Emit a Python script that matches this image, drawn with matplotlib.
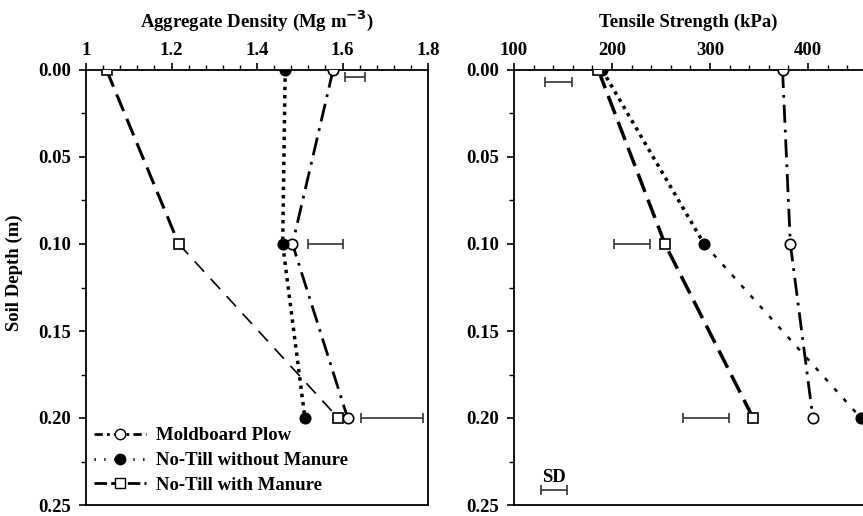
import matplotlib
matplotlib.use("Agg")
import matplotlib.pyplot as plt
from matplotlib.lines import Line2D
from matplotlib.ticker import MultipleLocator

plt.rcParams['font.family'] = ['Liberation Serif', 'DejaVu Serif']
plt.rcParams['font.weight'] = 'bold'
plt.rcParams['mathtext.fontset'] = 'custom'
plt.rcParams['mathtext.rm'] = 'Liberation Serif:bold'
plt.rcParams['lines.scale_dashes'] = False

# Data
depth = [0.00, 0.10, 0.20]

dens_plow = [1.578, 1.483, 1.612]
dens_nt = [1.466, 1.460, 1.512]
dens_ntm = [1.048, 1.217, 1.590]
dens_sd_lo = [1.606, 1.520, 1.643]
dens_sd_hi = [1.653, 1.600, 1.789]
dens_sd_depth = [0.004, 0.10, 0.20]

ts_plow = [374, 382, 405]
ts_nt = [190, 294, 454]
ts_ntm = [186, 254, 344]
ts_sd_lo = [132, 202, 272]
ts_sd_hi = [159, 239, 319]
ts_sd_depth = [0.007, 0.10, 0.20]
sd_key = [128, 154]
sd_key_depth = 0.2414

labels = ['Moldboard Plow', 'No-Till without Manure', 'No-Till with Manure']

fig = plt.figure(figsize=(8.63, 5.16), dpi=100)
ax1 = fig.add_axes([86/863, 11/516, 342/863, 435/516])
ax2 = fig.add_axes([514/863, 11/516, 392/863, 435/516])

fs = 13.5
mk = dict(markersize=7.5, markeredgewidth=1.2, markeredgecolor='black', zorder=5)

plow_ls = (0, (13, 5, 2, 5))
nt_ls = (0, (2.5, 3.5))
ntm_ls = (0, (13, 6))


def style(ax):
    ax.set_ylim(0.25, 0.0)
    ax.yaxis.set_major_locator(MultipleLocator(0.05))
    ax.yaxis.set_minor_locator(MultipleLocator(0.025))
    ax.yaxis.set_major_formatter(matplotlib.ticker.FormatStrFormatter('%.2f'))
    ax.xaxis.tick_top()
    ax.tick_params(axis='both', which='major', direction='out', length=5, width=1.2,
                   labelsize=fs, pad=6)
    ax.tick_params(axis='x', which='major', pad=3)
    ax.tick_params(axis='both', which='minor', direction='out', length=3.5, width=1.0)
    ax.tick_params(axis='x', which='both', bottom=False, top=True)
    ax.tick_params(axis='y', which='both', right=False, left=True)
    for s in ax.spines.values():
        s.set_linewidth(1.3)


# Left panel: aggregate density
ax1.plot(dens_plow, depth, color='black', lw=2, linestyle=plow_ls)
ax1.plot(dens_nt, depth, color='black', lw=2.5, linestyle=nt_ls)
ax1.plot(dens_ntm[:2], depth[:2], color='black', lw=2.2, linestyle=ntm_ls)
ax1.plot(dens_ntm[1:], depth[1:], color='black', lw=1.2, linestyle=(0, (10, 7)))
ax1.plot(dens_plow, depth, 'o', markerfacecolor='white', **mk)
ax1.plot(dens_nt, depth, 'o', markerfacecolor='black', **mk)
ax1.plot(dens_ntm, depth, 's', markerfacecolor='white', **mk)
for lo, hi, d in zip(dens_sd_lo, dens_sd_hi, dens_sd_depth):
    ax1.errorbar((lo + hi) / 2, d, xerr=(hi - lo) / 2, color='#333333', lw=1.2,
                 capsize=3.5, capthick=1.2, fmt='none')

ax1.set_xlim(1.0, 1.8)
ax1.xaxis.set_major_locator(MultipleLocator(0.2))
ax1.xaxis.set_minor_locator(MultipleLocator(0.04))
ax1.xaxis.set_major_formatter(matplotlib.ticker.FuncFormatter(
    lambda v, p: '1' if abs(v - 1) < 1e-9 else f'{v:.1f}'))
style(ax1)
ax1.set_title(r'Aggregate Density (Mg m$^{\mathbf{-3}}$)', fontsize=fs, fontweight='bold', pad=11)
ax1.set_ylabel('Soil Depth (m)', fontsize=fs, fontweight='bold')
ax1.yaxis.set_label_coords(-0.185, 0.535)

handles = [
    Line2D([], [], color='black', lw=2, linestyle=(0, (6, 3, 2, 3)), marker='o',
           markerfacecolor='white', markeredgecolor='black', markersize=7.5),
    Line2D([], [], color='black', lw=2, linestyle=(0, (1, 6)), marker='o',
           markerfacecolor='black', markeredgecolor='black', markersize=7.5),
    Line2D([], [], color='black', lw=2, linestyle=(0, (9, 3)), marker='s',
           markerfacecolor='white', markeredgecolor='black', markersize=7.5),
]
ax1.legend(handles, labels, loc='lower left', bbox_to_anchor=(-0.01, 0.0),
           frameon=False, fontsize=fs, handlelength=2.8, handletextpad=0.5,
           labelspacing=0.4, borderaxespad=0.2, numpoints=1)

# Right panel: tensile strength
ax2.plot(ts_plow, depth, color='black', lw=2, linestyle=plow_ls)
ax2.plot(ts_nt[:2], depth[:2], color='black', lw=2.5, linestyle=nt_ls)
ax2.plot(ts_nt[1:], depth[1:], color='black', lw=1.8, linestyle=(0, (3, 7)))
ax2.plot(ts_ntm, depth, color='black', lw=2.5, linestyle=(0, (14, 6)))
ax2.plot(ts_plow, depth, 'o', markerfacecolor='white', **mk)
ax2.plot(ts_nt, depth, 'o', markerfacecolor='black', **mk)
ax2.plot(ts_ntm, depth, 's', markerfacecolor='white', **mk)
for lo, hi, d in zip(ts_sd_lo, ts_sd_hi, ts_sd_depth):
    ax2.errorbar((lo + hi) / 2, d, xerr=(hi - lo) / 2, color='#333333', lw=1.2,
                 capsize=3.5, capthick=1.2, fmt='none')
ax2.errorbar((sd_key[0] + sd_key[1]) / 2, sd_key_depth, xerr=(sd_key[1] - sd_key[0]) / 2,
             color='#333333', lw=1.2, capsize=3.5, capthick=1.2, fmt='none')
ax2.text((sd_key[0] + sd_key[1]) / 2, sd_key_depth - 0.0025, 'SD', ha='center', va='bottom',
         fontsize=fs, fontweight='bold')

ax2.set_xlim(100, 500)
ax2.xaxis.set_major_locator(MultipleLocator(100))
ax2.xaxis.set_minor_locator(MultipleLocator(20))
ax2.xaxis.set_major_formatter(matplotlib.ticker.FuncFormatter(
    lambda v, p: '' if v > 450 else f'{v:.0f}'))
style(ax2)
ax2.set_title('Tensile Strength (kPa)', fontsize=fs, fontweight='bold', pad=11, x=0.444)

fig.savefig('out.png', dpi=100)
